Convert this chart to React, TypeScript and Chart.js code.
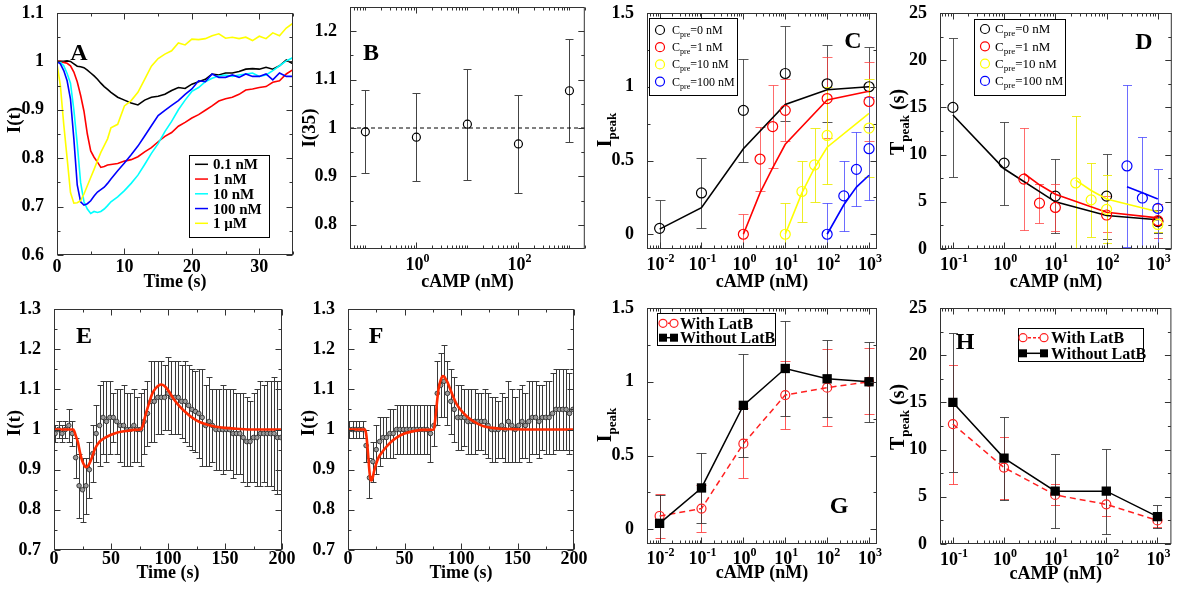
import { useEffect, useRef } from 'react';
import { Chart, registerables } from 'chart.js';

Chart.register(...registerables);

const FONT = '"Liberation Serif", "Times New Roman", Times, serif';

/* ---------------- Panel A : I(t) traces ---------------- */
const timeA = [0, 0.5, 1, 1.5, 2, 2.5, 3, 3.5, 4, 4.5, 5, 5.5, 6, 6.5, 7, 7.5, 8, 9, 10, 11, 12, 13, 14, 15, 16, 17, 18, 19, 20, 21, 22, 23, 24, 25, 26, 27, 28, 29, 30, 31, 32, 33, 34, 35];
const iA_01nM = [1.0, 1.0, 1.0, 1.001, 1.0, 0.995, 0.99, 0.989, 0.987, 0.982, 0.976, 0.97, 0.963, 0.955, 0.948, 0.942, 0.936,
  0.926, 0.92, 0.914, 0.91, 0.92, 0.926, 0.928, 0.932, 0.94, 0.946, 0.944, 0.953, 0.958, 0.963, 0.974, 0.972, 0.976, 0.976, 0.979, 0.984, 0.985, 0.984, 0.988, 0.984, 0.991, 1.003, 0.995];
const iA_1nM = [1.0, 1.0, 0.998, 0.996, 0.991, 0.978, 0.958, 0.93, 0.897, 0.85, 0.815, 0.802, 0.792, 0.781, 0.783, 0.786, 0.787,
  0.789, 0.794, 0.797, 0.803, 0.813, 0.822, 0.834, 0.845, 0.853, 0.866, 0.874, 0.883, 0.89, 0.899, 0.908, 0.918, 0.923, 0.926, 0.932, 0.941, 0.943, 0.946, 0.948, 0.957, 0.96, 0.974, 0.983];
const iA_10nM = [1.0, 0.998, 0.991, 0.975, 0.955, 0.9, 0.83, 0.75, 0.71, 0.695, 0.686, 0.69, 0.688, 0.69, 0.695, 0.702, 0.71,
  0.72, 0.733, 0.748, 0.765, 0.787, 0.81, 0.83, 0.855, 0.876, 0.9, 0.92, 0.938, 0.946, 0.958, 0.965, 0.97, 0.972, 0.969, 0.972, 0.974, 0.976, 0.969, 0.972, 0.981, 0.991, 1.001, 1.008];
const iA_100nM = [1.0, 0.995, 0.981, 0.96, 0.922, 0.84, 0.745, 0.71, 0.703, 0.706, 0.712, 0.722, 0.73, 0.735, 0.74, 0.748, 0.757,
  0.774, 0.79, 0.807, 0.825, 0.846, 0.867, 0.888, 0.899, 0.909, 0.919, 0.932, 0.943, 0.96, 0.958, 0.974, 0.967, 0.967, 0.972, 0.967, 0.974, 0.969, 0.969, 0.974, 0.962, 0.976, 0.969, 0.969];
const iA_1uM = [0.995, 0.95, 0.87, 0.8, 0.729, 0.707, 0.708, 0.712, 0.726, 0.743, 0.76, 0.777, 0.795, 0.812, 0.826, 0.84, 0.863,
  0.87, 0.908, 0.919, 0.936, 0.963, 0.99, 1.006, 1.015, 1.022, 1.038, 1.034, 1.046, 1.045, 1.047, 1.053, 1.057, 1.048, 1.05, 1.047, 1.05, 1.043, 1.052, 1.047, 1.059, 1.053, 1.069, 1.079];
const labelsA = ['0.1 nM', '1 nM', '10 nM', '100 nM', '1 \u03bcM'];
const colorsA = ['#000000', '#ff0000', '#00ffff', '#0000ff', '#ffff00'];
const xTicksA = [0, 10, 20, 30];
const xMinorA = [5, 15, 25, 35];
const yTicksA = [0.6, 0.7, 0.8, 0.9, 1, 1.1];
const yMinorA = [0.65, 0.75, 0.85, 0.95, 1.05];

/* ---------------- Panel B : I(35) ---------------- */
const camB = [0.1, 1, 10, 100, 1000];
const i35B = [0.992, 0.981, 1.008, 0.967, 1.077];
const i35LoB = [0.906, 0.891, 0.893, 0.865, 0.972];
const i35HiB = [1.078, 1.072, 1.122, 1.069, 1.183];
const refLevelB = 1;
const xRangeB = [0.05, 2000];
const yTicksB = [0.8, 0.9, 1, 1.1, 1.2];
const yMinorB = [0.85, 0.95, 1.05, 1.15];
const xMajorB = [1, 100];
const xExpB = [0, 2];

/* ---------------- Panel C : I_peak vs cAMP, pre-stimulus ---------------- */
const camC0 = [0.01, 0.1, 1, 10, 100, 1000];
const ipkC0 = [0.04, 0.28, 0.84, 1.09, 1.02, 1.0];
const ipkLoC0 = [-0.15, 0.04, 0.49, 0.77, 0.76, 0.73];
const ipkHiC0 = [0.23, 0.52, 1.19, 1.41, 1.28, 1.27];
const ipkFitC0 = [0.035, 0.18, 0.58, 0.88, 0.98, 1.0];
const camC1 = [1, 2.5, 5, 10, 100, 1000];
const ipkC1 = [0, 0.51, 0.73, 0.84, 0.92, 0.9];
const ipkLoC1 = [-0.14, 0.29, 0.45, 0.63, 0.65, 0.63];
const ipkHiC1 = [0.14, 0.73, 1.01, 1.05, 1.2, 1.17];
const ipkFitC1 = [0, 0.28, 0.45, 0.61, 0.91, 0.97];
const camC10 = [10, 25, 50, 100, 1000];
const ipkC10 = [0, 0.29, 0.47, 0.67, 0.72];
const ipkLoC10 = [-0.2, 0.08, 0.22, 0.34, 0.39];
const ipkHiC10 = [0.21, 0.5, 0.72, 1.0, 1.05];
const ipkFitC10 = [0, 0.28, 0.45, 0.59, 0.82];
const camC100 = [100, 250, 500, 1000];
const ipkC100 = [0, 0.26, 0.44, 0.58];
const ipkLoC100 = [-0.2, 0.02, 0.19, 0.23];
const ipkHiC100 = [0.21, 0.5, 0.69, 0.93];
const ipkFitC100 = [0, 0.2, 0.32, 0.4];
const preLabels = ['=0 nM', '=1 nM', '=10 nM', '=100 nM'];
const preColors = ['#000000', '#ff0000', '#ffff00', '#0000ff'];
const preErrColors = ['rgba(60,60,60,0.85)', 'rgba(255,60,60,0.75)', 'rgba(235,235,0,0.85)', 'rgba(60,60,255,0.75)'];
const xRangeC = [0.005, 1550];
const yTicksC = [0, 0.5, 1, 1.5];
const yMinorC = [0.25, 0.75, 1.25];
const xMajorC = [0.01, 0.1, 1, 10, 100, 1000];
const xExpC = [-2, -1, 0, 1, 2, 3];

/* ---------------- Panel D : T_peak vs cAMP, pre-stimulus ---------------- */
const camD0 = [0.1, 1, 10, 100, 1000];
const tpkD0 = [15.0, 9.1, 5.6, 5.6, 2.9];
const tpkLoD0 = [7.6, 4.7, 1.7, 1.1, 1.7];
const tpkHiD0 = [22.4, 13.5, 9.55, 10.1, 4.1];
const tpkFitD0 = [14.2, 8.5, 5.0, 3.55, 3.1];
const camD1 = [2.43, 4.9, 10, 100, 1000];
const tpkD1 = [7.4, 4.85, 4.4, 3.6, 3.0];
const tpkLoD1 = [2.0, 2.8, 1.9, 1.8, 1.2];
const tpkHiD1 = [12.8, 6.9, 6.9, 5.6, 4.8];
const tpkFitD1 = [8.0, 6.8, 5.8, 3.9, 3.3];
const camD10 = [25, 50, 100, 1000];
const tpkD10 = [7.0, 5.2, 4.2, 2.6];
const tpkLoD10 = [-0.5, 1.3, 0.6, 1.8];
const tpkHiD10 = [14.1, 9.15, 7.8, 3.3];
const tpkFitD10 = [7.3, 6.2, 5.3, 3.95];
const camD100 = [250, 500, 1000];
const tpkD100 = [8.8, 5.4, 4.3];
const tpkLoD100 = [0.2, -0.5, 0.1];
const tpkHiD100 = [17.4, 11.85, 8.5];
const tpkFitD100 = [6.6, 5.95, 5.3];
const xRangeD = [0.056, 1875];
const yTicksD = [0, 5, 10, 15, 20, 25];
const yMinorD = [2.5, 7.5, 12.5, 17.5, 22.5];
const xMajorD = [0.1, 1, 10, 100, 1000];
const xExpD = [-1, 0, 1, 2, 3];

/* ---------------- Panels E, F : averaged responses with fits ---------------- */
const timeEF = [1, 4, 7, 10, 13, 16, 19, 22, 25, 28, 31, 34, 37, 40, 43, 46, 49, 52, 55, 58, 61, 64, 67, 70, 73, 76, 79, 82, 85, 88, 91, 94, 97,
  100, 103, 106, 109, 112, 115, 118, 121, 124, 127, 130, 133, 136, 139, 142, 145, 148, 151, 154, 157, 160, 163, 166, 169, 172, 175, 178, 181, 184, 187, 190, 193, 196, 199];
const iE = [
  0.99, 1.0, 0.99, 1.0, 1.01,
  0.99, 0.93, 0.86, 0.85, 0.86, 0.9, 0.94, 0.99, 1.01,
  1.03, 1.02, 1.03, 1.03, 1.02, 1.01, 1.01, 1.0, 1.0, 1.01,
  1.0, 1.0, 1.02, 1.04, 1.07, 1.07, 1.08, 1.08, 1.08,
  1.09, 1.08, 1.08, 1.08, 1.07, 1.07, 1.06, 1.05,
  1.045, 1.04, 1.03, 1.01, 1.02, 1.01, 1.0, 1.0, 1.0, 1.0, 1.0, 0.99, 0.99,
  0.99, 0.98, 0.97, 0.97, 0.98, 0.98, 0.99, 0.99, 0.99, 0.99, 0.99, 0.98, 0.98];
const sdE = [
  0.02, 0.02, 0.02, 0.02, 0.04,
  0.03, 0.05, 0.08, 0.08, 0.07, 0.07, 0.07, 0.07, 0.1,
  0.09, 0.1, 0.09, 0.06, 0.08, 0.09, 0.1, 0.09, 0.09, 0.09,
  0.08, 0.09, 0.08, 0.08, 0.1, 0.1, 0.09, 0.09, 0.08,
  0.09, 0.09, 0.09, 0.09, 0.09, 0.1, 0.1, 0.1,
  0.1, 0.11, 0.12, 0.1, 0.11, 0.09, 0.1, 0.1, 0.11, 0.1, 0.1, 0.11, 0.1,
  0.1, 0.11, 0.11, 0.1, 0.11, 0.12, 0.13, 0.12, 0.13, 0.13, 0.14, 0.14, 0.14];
const fitTimeE = [0, 17, 19, 21, 23, 25, 27, 28, 30, 33, 36, 40, 45, 50, 55, 60, 65, 70, 76, 78, 80, 83, 86, 89, 92, 94, 97, 100, 105, 110, 115, 120, 125, 130, 140, 150, 160, 175, 200];
const fitE = [1, 1, 0.985, 0.968, 0.94, 0.92, 0.909, 0.906, 0.91, 0.928, 0.952, 0.97, 0.98, 0.987, 0.992, 0.995, 0.997, 0.999, 1.0, 1.01,
  1.033, 1.062, 1.088, 1.102, 1.11, 1.112, 1.108, 1.098, 1.076, 1.058, 1.044, 1.032, 1.023, 1.016, 1.008, 1.004, 1.002, 1.0, 1.0];
const iF = [
  1.0, 1.0, 1.0, 1.0, 1.0,
  0.96, 0.88, 0.92, 0.95, 0.97, 0.98, 0.98, 0.99, 0.99,
  1.0, 1.0, 1.0, 1.0, 1.0, 1.0, 1.0, 1.0, 1.0, 1.0,
  0.99, 1.01, 1.09, 1.11, 1.12, 1.09, 1.07, 1.05, 1.03,
  1.03, 1.03, 1.02, 1.02, 1.02, 1.02, 1.02, 1.02,
  1.01, 1.0, 1.0, 1.0, 1.01, 1.0, 1.02, 1.01, 1.0, 1.01, 1.02, 1.01, 1.02,
  1.03, 1.03, 1.02, 1.03, 1.03, 1.03, 1.04, 1.05, 1.05, 1.05, 1.05, 1.04, 1.05];
const sdF = [
  0.02, 0.02, 0.02, 0.02, 0.02,
  0.04, 0.05, 0.05, 0.06, 0.06, 0.05, 0.05, 0.06, 0.06,
  0.06, 0.06, 0.06, 0.06, 0.06, 0.06, 0.06, 0.06, 0.06, 0.06,
  0.07, 0.05, 0.08, 0.08, 0.09, 0.08, 0.08, 0.08, 0.08,
  0.08, 0.07, 0.08, 0.08, 0.08, 0.07, 0.07, 0.08,
  0.08, 0.08, 0.08, 0.07, 0.08, 0.08, 0.1, 0.09, 0.08, 0.09, 0.09, 0.08, 0.1,
  0.09, 0.09, 0.09, 0.08, 0.09, 0.09, 0.1, 0.1, 0.1, 0.1, 0.1, 0.1, 0.1];
const fitTimeF = [0, 15, 16, 17, 18, 19, 20, 21, 22, 23, 25, 27, 30, 34, 38, 43, 50, 58, 66, 76, 77, 78, 79, 80, 81, 82, 83, 84, 85, 86, 88, 90, 93, 96, 100, 105, 110, 115, 120, 128, 135, 145, 160, 200];
const fitF = [1, 1, 0.99, 0.965, 0.93, 0.895, 0.875, 0.873, 0.882, 0.895, 0.915, 0.93, 0.943, 0.957, 0.969, 0.98, 0.99, 0.996, 0.999, 1.0,
  1.02, 1.045, 1.075, 1.098, 1.113, 1.123, 1.13, 1.133, 1.132, 1.128, 1.118, 1.104, 1.082, 1.064, 1.048, 1.033, 1.022, 1.014, 1.008, 1.004,
  1.002, 1.001, 1.0, 1.0];
const xTicksEF = [0, 50, 100, 150, 200];
const xMinorEF = [25, 75, 125, 175];
const yTicksEF = [0.7, 0.8, 0.9, 1, 1.1, 1.2, 1.3];
const yMinorEF = [0.75, 0.85, 0.95, 1.05, 1.15, 1.25];

/* ---------------- Panels G, H : with / without LatB ---------------- */
const ipkWithLatB = [0.09, 0.14, 0.58, 0.91, 0.96, 1.0];
const ipkWithLoG = [-0.06, -0.02, 0.35, 0.68, 0.7, 0.78];
const ipkWithHiG = [0.24, 0.3, 0.82, 1.14, 1.22, 1.23];
const tpkWithLatB = [12.7, 8.1, 5.2, 4.2, 2.5];
const tpkWithLoH = [6.4, 4.8, 4.1, 3.0, 1.8];
const tpkWithHiH = [19.0, 11.35, 6.4, 5.3, 3.3];
const latbLabels = ['With LatB', 'Without LatB'];

/* ---------------- helpers ---------------- */
type Part = { t: string; s: number; dy?: number };

function drawParts(ctx: any, parts: Part[], x: number, y: number, weight: string, center: boolean) {
  const widths = parts.map((p) => {
    ctx.font = `${weight} ${p.s}px ${FONT}`;
    return ctx.measureText(p.t).width;
  });
  const total = widths.reduce((s, w) => s + w, 0);
  let cx = center ? x - total / 2 : x;
  ctx.textAlign = 'left';
  ctx.textBaseline = 'alphabetic';
  parts.forEach((p, i) => {
    ctx.font = `${weight} ${p.s}px ${FONT}`;
    ctx.fillText(p.t, cx, y + (p.dy || 0));
    cx += widths[i];
  });
}

function logMinor(range: number[], majors: number[]) {
  const out: number[] = [];
  for (let k = Math.floor(Math.log10(range[0])); k <= Math.ceil(Math.log10(range[1])); k++) {
    for (let m = 1; m <= 9; m++) {
      const v = m * Math.pow(10, k);
      if (v >= range[0] && v <= range[1] && !majors.some((M) => Math.abs(M - v) / v < 1e-6)) out.push(v);
    }
  }
  return out;
}

const pts = (xs: number[], ys: number[]) => xs.map((x, i) => ({ x, y: ys[i] }));

function lineDs(xs: number[], ys: number[], color: string, width: number, dash?: number[]) {
  return { data: pts(xs, ys), showLine: true, borderColor: color, borderWidth: width, borderDash: dash || [], pointRadius: 0, fill: false };
}

function markDs(xs: number[], ys: number[], color: string, r: number, lo: number[], hi: number[], errColor: string, cap: number) {
  return {
    data: pts(xs, ys), showLine: false, pointRadius: r, pointStyle: 'circle', pointBorderColor: color,
    pointBackgroundColor: 'rgba(0,0,0,0)', pointBorderWidth: 1.2, errLo: lo, errHi: hi, errColor, errCap: cap,
  };
}

type LegItem = { color: string; sym: string; dash?: number[]; parts: Part[] };
type Leg = { x: number; y: number; w: number; h: number; row0: number; rowH: number; s1: number; s2: number; tx: number; weight: string; items: LegItem[] };
type Deco = {
  xMajor: number[]; xMinor: number[]; yMajor: number[]; yMinor: number[];
  logExps?: number[];
  linLabels?: number[];
  labelBase: number;
  yTitle: { parts: Part[]; x: number; y: number };
  letter: { t: string; x: number; y: number };
  legend?: Leg;
};

const fmt = (v: number) => String(Math.round(v * 1000) / 1000);

function grace(d: Deco) {
  return {
    id: 'grace',
    beforeDatasetsDraw(chart: any) {
      const { ctx, chartArea: a } = chart;
      const xs = chart.scales.x;
      const ys = chart.scales.y;
      ctx.save();
      ctx.beginPath();
      ctx.rect(a.left, a.top, a.right - a.left, a.bottom - a.top);
      ctx.clip();
      chart.data.datasets.forEach((ds: any) => {
        if (!ds.errLo) return;
        ctx.strokeStyle = ds.errColor;
        ctx.lineWidth = 1;
        ctx.beginPath();
        ds.data.forEach((p: any, j: number) => {
          const x = Math.round(xs.getPixelForValue(p.x)) + 0.5;
          const y1 = Math.round(ys.getPixelForValue(ds.errLo[j])) + 0.5;
          const y2 = Math.round(ys.getPixelForValue(ds.errHi[j])) + 0.5;
          const c = ds.errCap;
          ctx.moveTo(x, y1); ctx.lineTo(x, y2);
          ctx.moveTo(x - c, y1); ctx.lineTo(x + c, y1);
          ctx.moveTo(x - c, y2); ctx.lineTo(x + c, y2);
        });
        ctx.stroke();
      });
      ctx.restore();
    },
    afterDraw(chart: any) {
      const { ctx, chartArea: a } = chart;
      const xs = chart.scales.x;
      const ys = chart.scales.y;
      const L = a.left + 0.5, R = a.right - 0.5, T = a.top + 0.5, B = a.bottom - 0.5;
      ctx.save();
      ctx.strokeStyle = '#333';
      ctx.lineWidth = 1;
      ctx.setLineDash([]);
      ctx.beginPath();
      const xt = (v: number, len: number) => {
        const x = Math.round(xs.getPixelForValue(v)) + 0.5;
        ctx.moveTo(x, B); ctx.lineTo(x, B - len);
        ctx.moveTo(x, T); ctx.lineTo(x, T + len);
      };
      const yt = (v: number, len: number) => {
        const y = Math.round(ys.getPixelForValue(v)) + 0.5;
        ctx.moveTo(L, y); ctx.lineTo(L + len, y);
        ctx.moveTo(R, y); ctx.lineTo(R - len, y);
      };
      d.xMajor.forEach((v) => xt(v, 6));
      d.xMinor.forEach((v) => xt(v, 3));
      d.yMajor.forEach((v) => yt(v, 6));
      d.yMinor.forEach((v) => yt(v, 3));
      ctx.stroke();
      ctx.strokeRect(L, T, R - L, B - T);

      ctx.fillStyle = '#000';
      ctx.textBaseline = 'alphabetic';
      if (d.logExps) {
        d.logExps.forEach((e) => {
          const x = xs.getPixelForValue(Math.pow(10, e));
          ctx.font = `bold 18px ${FONT}`;
          const w1 = ctx.measureText('10').width;
          ctx.font = `bold 12px ${FONT}`;
          const w2 = ctx.measureText(String(e)).width;
          const x0 = x - (w1 + w2) / 2 + 1;
          ctx.textAlign = 'left';
          ctx.font = `bold 18px ${FONT}`;
          ctx.fillText('10', x0, a.bottom + d.labelBase);
          ctx.font = `bold 12px ${FONT}`;
          ctx.fillText(String(e), x0 + w1, a.bottom + d.labelBase - 8);
        });
      }
      if (d.linLabels) {
        ctx.font = `bold 18px ${FONT}`;
        ctx.textAlign = 'center';
        d.linLabels.forEach((v) => {
          ctx.fillText(fmt(v), xs.getPixelForValue(v), a.bottom + d.labelBase);
        });
      }

      // y title
      ctx.save();
      ctx.translate(d.yTitle.x, d.yTitle.y);
      ctx.rotate(-Math.PI / 2);
      drawParts(ctx, d.yTitle.parts, 0, d.yTitle.parts[0].s * 0.33, 'bold', true);
      ctx.restore();

      // panel letter
      ctx.font = `bold 24px ${FONT}`;
      ctx.textAlign = 'center';
      ctx.textBaseline = 'alphabetic';
      ctx.fillText(d.letter.t, d.letter.x, d.letter.y + 8);

      // legend
      const g = d.legend;
      if (g) {
        ctx.fillStyle = '#fff';
        ctx.fillRect(g.x, g.y, g.w, g.h);
        ctx.strokeStyle = '#000';
        ctx.lineWidth = 1;
        ctx.strokeRect(g.x + 0.5, g.y + 0.5, g.w, g.h);
        g.items.forEach((it, i) => {
          const y = g.row0 + i * g.rowH;
          ctx.strokeStyle = it.color;
          ctx.fillStyle = it.color;
          ctx.lineWidth = 1.5;
          if (it.sym !== 'circle') {
            ctx.setLineDash(it.dash || []);
            ctx.beginPath();
            ctx.moveTo(g.s1, y);
            ctx.lineTo(g.s2, y);
            ctx.stroke();
            ctx.setLineDash([]);
          }
          ctx.lineWidth = 1.2;
          if (it.sym === 'circle') {
            ctx.beginPath(); ctx.arc(g.s1, y, 4.5, 0, Math.PI * 2); ctx.stroke();
          }
          if (it.sym === 'lineCircle') {
            [g.s1, g.s2].forEach((sx) => {
              ctx.beginPath(); ctx.arc(sx, y, 4, 0, Math.PI * 2);
              ctx.fillStyle = '#fff'; ctx.fill(); ctx.stroke();
            });
          }
          if (it.sym === 'lineSquare') {
            [g.s1, g.s2].forEach((sx) => { ctx.fillRect(sx - 4, y - 4, 8, 8); });
          }
          ctx.fillStyle = '#000';
          drawParts(ctx, it.parts, g.tx, y + it.parts[0].s * 0.33, g.weight, false);
        });
      }
      ctx.restore();
    },
  };
}

const tickFont = { family: FONT, size: 18, weight: 'bold' };

function xAxis(type: string, min: number, max: number, title: string, pad: number, h: number) {
  return {
    type, min, max,
    grid: { display: false }, border: { display: false },
    ticks: { display: false },
    title: { display: true, text: title, font: tickFont, color: '#000', padding: { top: 0, bottom: pad } },
    afterFit: (s: any) => { s.height = h; s.paddingLeft = 0; s.paddingRight = 0; },
  };
}

function yLin(min: number, max: number, ticks: number[], w: number) {
  return {
    type: 'linear', min, max,
    grid: { display: false }, border: { display: false },
    ticks: { font: tickFont, color: '#000', padding: 5, callback: (v: any) => fmt(Number(v)) },
    afterBuildTicks: (s: any) => { s.ticks = ticks.map((v) => ({ value: v })); },
    afterFit: (s: any) => { s.width = w; s.paddingTop = 0; s.paddingBottom = 0; },
  };
}

type Geo = { left: number; top: number; w: number; h: number; pt: number; pr: number; yw: number; xh: number };
const GEO: Record<string, Geo> = {
  A: { left: 0, top: 0, w: 295, h: 295, pt: 13, pr: 2, yw: 57, xh: 40 },
  B: { left: 295, top: 0, w: 295, h: 295, pt: 7, pr: 2, yw: 55, xh: 46 },
  C: { left: 590, top: 0, w: 295, h: 295, pt: 13, pr: 8, yw: 57, xh: 46 },
  D: { left: 885, top: 0, w: 293, h: 295, pt: 13, pr: 6, yw: 55, xh: 46 },
  E: { left: 0, top: 295, w: 295, h: 295, pt: 14, pr: 13, yw: 54, xh: 40 },
  F: { left: 295, top: 295, w: 295, h: 295, pt: 14, pr: 16, yw: 53, xh: 40 },
  G: { left: 590, top: 295, w: 295, h: 295, pt: 13, pr: 8, yw: 57, xh: 46 },
  H: { left: 885, top: 295, w: 293, h: 295, pt: 13, pr: 6, yw: 55, xh: 46 },
};

function makeConfig(g: Geo, datasets: any[], x: any, y: any, deco: Deco) {
  return {
    type: 'scatter',
    data: { datasets: datasets.map((d, i) => ({ ...d, order: -i })) },
    options: {
      responsive: false, animation: false, events: [],
      layout: { padding: { left: 0, top: g.pt, right: g.pr, bottom: 0 } },
      plugins: { legend: { display: false }, tooltip: { enabled: false } },
      scales: { x, y },
    },
    plugins: [grace(deco)],
  };
}

const ipkTitle: Part[] = [{ t: 'I', s: 20 }, { t: 'peak', s: 13, dy: 5 }];
const tpkTitle: Part[] = [{ t: 'T', s: 20 }, { t: 'peak', s: 13, dy: 5 }, { t: ' (s)', s: 20 }];
const preParts = (i: number, s: number): Part[] => [{ t: 'C', s }, { t: 'pre', s: s - 4, dy: 3 }, { t: preLabels[i], s }];

/* ---------------- panel builders ---------------- */
function cfgA() {
  const series = [iA_01nM, iA_1nM, iA_10nM, iA_100nM, iA_1uM];
  const ds = series.map((s, i) => lineDs(timeA, s, colorsA[i], 1.6));
  return makeConfig(GEO.A, ds, xAxis('linear', 0, 35, 'Time (s)', 2, GEO.A.xh), yLin(0.6, 1.1, yTicksA, GEO.A.yw), {
    xMajor: xTicksA, xMinor: xMinorA, yMajor: yTicksA, yMinor: yMinorA,
    linLabels: xTicksA, labelBase: 17,
    yTitle: { parts: [{ t: 'I(t)', s: 19 }], x: 14, y: 120 },
    letter: { t: 'A', x: 79, y: 52 },
    legend: {
      x: 189, y: 155, w: 80, h: 82, row0: 164.3, rowH: 14.75, s1: 195, s2: 208, tx: 213, weight: 'bold',
      items: labelsA.map((l, i) => ({ color: colorsA[i], sym: 'line', parts: [{ t: l, s: 15 }] })),
    },
  });
}

function cfgB() {
  const ds = [
    lineDs(xRangeB, [refLevelB, refLevelB], '#000', 1, [4, 3]),
    markDs(camB, i35B, '#000', 4, i35LoB, i35HiB, '#444', 4),
  ];
  return makeConfig(GEO.B, ds, xAxis('logarithmic', xRangeB[0], xRangeB[1], 'cAMP (nM)', 2, GEO.B.xh), yLin(0.75, 1.25, yTicksB, GEO.B.yw), {
    xMajor: xMajorB, xMinor: logMinor(xRangeB, xMajorB), yMajor: yTicksB, yMinor: yMinorB,
    logExps: xExpB, labelBase: 21,
    yTitle: { parts: [{ t: 'I(35)', s: 19 }], x: 14, y: 128 },
    letter: { t: 'B', x: 76, y: 52 },
  });
}

function cfgC() {
  const groups = [
    [camC0, ipkC0, ipkLoC0, ipkHiC0, ipkFitC0],
    [camC1, ipkC1, ipkLoC1, ipkHiC1, ipkFitC1],
    [camC10, ipkC10, ipkLoC10, ipkHiC10, ipkFitC10],
    [camC100, ipkC100, ipkLoC100, ipkHiC100, ipkFitC100],
  ];
  const ds: any[] = [];
  groups.forEach((g, i) => {
    ds.push(lineDs(g[0], g[4], preColors[i], 1.6));
    ds.push(markDs(g[0], g[1], preColors[i], 5, g[2], g[3], preErrColors[i], 5));
  });
  return makeConfig(GEO.C, ds, xAxis('logarithmic', xRangeC[0], xRangeC[1], 'cAMP (nM)', 2, GEO.C.xh), yLin(-0.1, 1.5, yTicksC, GEO.C.yw), {
    xMajor: xMajorC, xMinor: logMinor(xRangeC, xMajorC), yMajor: yTicksC, yMinor: yMinorC,
    logExps: xExpC, labelBase: 21,
    yTitle: { parts: ipkTitle, x: 14, y: 130 },
    letter: { t: 'C', x: 263, y: 40 },
    legend: {
      x: 59, y: 18, w: 88, h: 77, row0: 30, rowH: 17.2, s1: 70, s2: 70, tx: 82, weight: 'normal',
      items: preColors.map((c, i) => ({ color: c, sym: 'circle', parts: preParts(i, 12) })),
    },
  });
}

function cfgD() {
  const groups = [
    [camD0, tpkD0, tpkLoD0, tpkHiD0, tpkFitD0],
    [camD1, tpkD1, tpkLoD1, tpkHiD1, tpkFitD1],
    [camD10, tpkD10, tpkLoD10, tpkHiD10, tpkFitD10],
    [camD100, tpkD100, tpkLoD100, tpkHiD100, tpkFitD100],
  ];
  const ds: any[] = [];
  groups.forEach((g, i) => {
    ds.push(lineDs(g[0], g[4], preColors[i], 1.6));
    ds.push(markDs(g[0], g[1], preColors[i], 5, g[2], g[3], preErrColors[i], 4.5));
  });
  return makeConfig(GEO.D, ds, xAxis('logarithmic', xRangeD[0], xRangeD[1], 'cAMP (nM)', 2, GEO.D.xh), yLin(0, 25, yTicksD, GEO.D.yw), {
    xMajor: xMajorD, xMinor: logMinor(xRangeD, xMajorD), yMajor: yTicksD, yMinor: yMinorD,
    logExps: xExpD, labelBase: 21,
    yTitle: { parts: tpkTitle, x: 12, y: 122 },
    letter: { t: 'D', x: 259, y: 41 },
    legend: {
      x: 89, y: 19, w: 91, h: 76, row0: 29, rowH: 17.3, s1: 100, s2: 100, tx: 110, weight: 'normal',
      items: preColors.map((c, i) => ({ color: c, sym: 'circle', parts: preParts(i, 13) })),
    },
  });
}

function cfgEF(g: Geo, vals: number[], sd: number[], fitT: number[], fit: number[], letter: string, lx: number, ytx: number) {
  const marks = {
    data: pts(timeEF, vals), showLine: false, pointRadius: 2.3, pointStyle: 'circle',
    pointBackgroundColor: '#9a9a9a', pointBorderColor: '#222', pointBorderWidth: 0.8,
    errLo: vals.map((v, i) => v - sd[i]), errHi: vals.map((v, i) => v + sd[i]), errColor: '#3a3a3a', errCap: 3,
  };
  const fitDs = { ...lineDs(fitT, fit, '#ff2a00', 2.6), cubicInterpolationMode: 'monotone' };
  return makeConfig(g, [marks, fitDs], xAxis('linear', 0, 200, 'Time (s)', 6, g.xh), yLin(0.7, 1.3, yTicksEF, g.yw), {
    xMajor: xTicksEF, xMinor: xMinorEF, yMajor: yTicksEF, yMinor: yMinorEF,
    linLabels: xTicksEF, labelBase: 14,
    yTitle: { parts: [{ t: 'I(t)', s: 19 }], x: ytx, y: 128 },
    letter: { t: letter, x: lx, y: 40 },
  });
}

function cfgG() {
  const withDs = {
    ...lineDs(camC0, ipkWithLatB, '#ff2020', 1.5, [6, 4]),
    pointRadius: 4.5, pointStyle: 'circle', pointBorderColor: '#ff2020', pointBackgroundColor: 'rgba(0,0,0,0)', pointBorderWidth: 1.2,
    errLo: ipkWithLoG, errHi: ipkWithHiG, errColor: 'rgba(255,60,60,0.85)', errCap: 5,
  };
  const withoutDs = {
    ...lineDs(camC0, ipkC0, '#000', 1.5),
    pointRadius: 6.6, pointStyle: 'rect', pointBorderColor: '#000', pointBackgroundColor: '#000', pointBorderWidth: 0,
    errLo: ipkLoC0, errHi: ipkHiC0, errColor: 'rgba(50,50,50,0.85)', errCap: 5,
  };
  return makeConfig(GEO.G, [withDs, withoutDs], xAxis('logarithmic', xRangeC[0], xRangeC[1], 'cAMP (nM)', 6, GEO.G.xh), yLin(-0.1, 1.5, yTicksC, GEO.G.yw), {
    xMajor: xMajorC, xMinor: logMinor(xRangeC, xMajorC), yMajor: yTicksC, yMinor: yMinorC,
    logExps: xExpC, labelBase: 20,
    yTitle: { parts: ipkTitle, x: 14, y: 130 },
    letter: { t: 'G', x: 249, y: 210 },
    legend: {
      x: 67, y: 18, w: 118, h: 32, row0: 28.3, rowH: 14.4, s1: 73, s2: 84, tx: 90, weight: 'bold',
      items: [
        { color: '#ff2020', sym: 'lineCircle', dash: [3, 2], parts: [{ t: latbLabels[0], s: 16 }] },
        { color: '#000', sym: 'lineSquare', parts: [{ t: latbLabels[1], s: 16 }] },
      ],
    },
  });
}

function cfgH() {
  const withDs = {
    ...lineDs(camD0, tpkWithLatB, '#ff2020', 1.5, [6, 4]),
    pointRadius: 4.5, pointStyle: 'circle', pointBorderColor: '#ff2020', pointBackgroundColor: 'rgba(0,0,0,0)', pointBorderWidth: 1.2,
    errLo: tpkWithLoH, errHi: tpkWithHiH, errColor: 'rgba(255,60,60,0.85)', errCap: 4.5,
  };
  const withoutDs = {
    ...lineDs(camD0, tpkD0, '#000', 1.5),
    pointRadius: 6.6, pointStyle: 'rect', pointBorderColor: '#000', pointBackgroundColor: '#000', pointBorderWidth: 0,
    errLo: tpkLoD0, errHi: tpkHiD0, errColor: 'rgba(50,50,50,0.85)', errCap: 4.5,
  };
  return makeConfig(GEO.H, [withDs, withoutDs], xAxis('logarithmic', xRangeD[0], xRangeD[1], 'cAMP (nM)', 5, GEO.H.xh), yLin(0, 25, yTicksD, GEO.H.yw), {
    xMajor: xMajorD, xMinor: logMinor(xRangeD, xMajorD), yMajor: yTicksD, yMinor: yMinorD,
    logExps: xExpD, labelBase: 21,
    yTitle: { parts: tpkTitle, x: 12, y: 122 },
    letter: { t: 'H', x: 80, y: 46 },
    legend: {
      x: 133, y: 33, w: 125, h: 33, row0: 42.7, rowH: 15.6, s1: 138, s2: 159, tx: 166, weight: 'bold',
      items: [
        { color: '#ff2020', sym: 'lineCircle', dash: [3, 2], parts: [{ t: latbLabels[0], s: 16 }] },
        { color: '#000', sym: 'lineSquare', parts: [{ t: latbLabels[1], s: 16 }] },
      ],
    },
  });
}

function Panel({ g, make }: { g: Geo; make: () => any }) {
  const ref = useRef<HTMLCanvasElement>(null);
  useEffect(() => {
    const chart = new Chart(ref.current as HTMLCanvasElement, make());
    return () => chart.destroy();
  }, []);
  return (
    <canvas
      ref={ref}
      width={g.w}
      height={g.h}
      style={{ position: 'absolute', left: g.left, top: g.top, width: g.w, height: g.h }}
    />
  );
}

export default function App() {
  return (
    <div style={{ position: 'fixed', left: 0, top: 0, width: 1178, height: 590, background: '#fff', overflow: 'hidden' }}>
      <Panel g={GEO.A} make={cfgA} />
      <Panel g={GEO.B} make={cfgB} />
      <Panel g={GEO.C} make={cfgC} />
      <Panel g={GEO.D} make={cfgD} />
      <Panel g={GEO.E} make={() => cfgEF(GEO.E, iE, sdE, fitTimeE, fitE, 'E', 84, 14)} />
      <Panel g={GEO.F} make={() => cfgEF(GEO.F, iF, sdF, fitTimeF, fitF, 'F', 81, 13)} />
      <Panel g={GEO.G} make={cfgG} />
      <Panel g={GEO.H} make={cfgH} />
    </div>
  );
}
